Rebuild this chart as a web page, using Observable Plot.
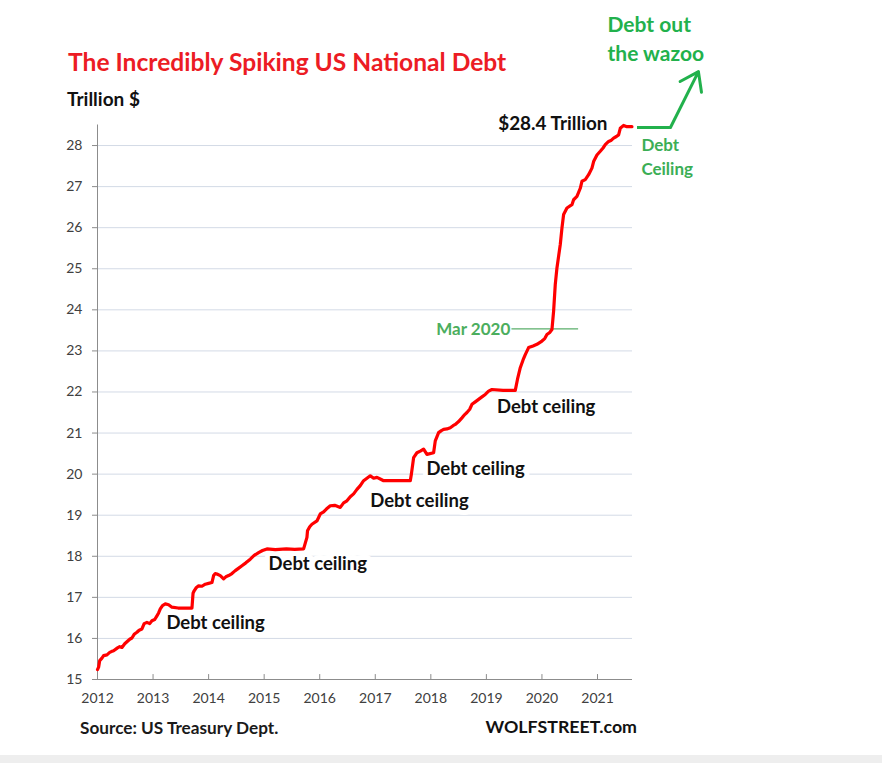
<!DOCTYPE html>
<html><head><meta charset="utf-8">
<script src="https://cdn.jsdelivr.net/npm/d3@7"></script>
<script src="https://cdn.jsdelivr.net/npm/@observablehq/plot@0.6"></script>
<style>
body{margin:0;background:#fff;font-family:Lato,sans-serif;}
#wrap{position:relative;width:882px;height:763px;overflow:hidden;background:#fff}
#chart{position:absolute;left:0;top:0}
.t{position:absolute;white-space:nowrap;font-weight:bold;line-height:1}
#strip{position:absolute;left:0;top:755px;width:882px;height:8px;background:#eeeeee}
</style></head><body>
<div id="wrap">
<div id="chart"></div>
<div class="t" style="left:68px;top:50px;font-size:24.6px;color:#ec1c24">The Incredibly Spiking US National Debt</div>
<div class="t" style="left:67px;top:89px;font-size:19px;color:#111">Trillion $</div>
<div class="t" style="left:80px;top:719px;font-size:17.2px;color:#1a1a1a">Source: US Treasury Dept.</div>
<div class="t" style="right:245px;top:718px;font-size:17.8px;color:#111">WOLFSTREET.com</div>
<div id="strip"></div>
</div>
<script>
// Debt series (decimal year, trillion $)
const years = [2012.00,2012.02,2012.04,2012.08,2012.11,2012.17,2012.22,2012.25,2012.29,2012.36,2012.40,2012.44,2012.49,2012.53,2012.58,2012.62,2012.66,2012.71,2012.75,2012.80,2012.84,2012.89,2012.94,2012.98,2013.03,2013.07,2013.10,2013.13,2013.17,2013.22,2013.28,2013.34,2013.45,2013.60,2013.70,
 2013.72,2013.74,2013.78,2013.82,2013.88,2013.94,2014.00,2014.06,2014.09,2014.12,2014.15,2014.21,2014.27,2014.31,2014.36,2014.42,2014.48,2014.53,2014.60,2014.67,2014.75,2014.82,2014.90,2014.97,2015.05,2015.20,2015.40,2015.55,2015.71,
 2015.77,2015.78,2015.82,2015.86,2015.95,2016.01,2016.07,2016.12,2016.19,2016.27,2016.37,2016.43,2016.49,2016.55,2016.61,2016.67,2016.73,2016.79,2016.85,2016.91,2016.97,2017.03,2017.09,2017.15,2017.40,2017.63,
 2017.65,2017.69,2017.75,2017.81,2017.87,2017.93,2018.05,2018.08,2018.14,2018.19,2018.23,2018.29,2018.35,2018.40,2018.44,2018.50,2018.56,2018.61,2018.65,2018.70,2018.74,2018.80,2018.86,2018.92,2018.98,2019.04,2019.10,2019.30,2019.52,
 2019.56,2019.61,2019.66,2019.70,2019.76,2019.84,2019.91,2020.00,2020.05,2020.09,2020.14,2020.18,2020.21,2020.24,2020.27,2020.33,2020.36,2020.39,2020.45,2020.54,2020.57,2020.63,2020.69,2020.72,2020.78,2020.84,2020.90,2020.93,2020.99,2021.05,2021.10,2021.14,2021.20,2021.25,2021.29,2021.34,2021.38,2021.41,2021.47,2021.53,2021.62];
const debt = [15.24,15.30,15.46,15.52,15.58,15.60,15.66,15.68,15.70,15.77,15.80,15.78,15.87,15.92,15.98,16.01,16.10,16.15,16.20,16.23,16.36,16.39,16.36,16.43,16.46,16.55,16.62,16.72,16.80,16.84,16.82,16.76,16.74,16.74,16.74,
 17.10,17.16,17.24,17.28,17.27,17.32,17.34,17.36,17.53,17.58,17.57,17.53,17.45,17.50,17.53,17.58,17.65,17.70,17.77,17.84,17.93,18.02,18.09,18.14,18.18,18.16,18.18,18.17,18.18,
 18.46,18.62,18.72,18.78,18.86,19.03,19.08,19.15,19.23,19.24,19.19,19.30,19.35,19.45,19.52,19.63,19.72,19.84,19.90,19.96,19.90,19.92,19.88,19.84,19.84,19.84,
 20.00,20.40,20.52,20.56,20.61,20.48,20.52,20.81,21.01,21.06,21.09,21.10,21.13,21.18,21.21,21.28,21.37,21.45,21.50,21.58,21.70,21.76,21.82,21.88,21.94,22.02,22.06,22.04,22.04,
 22.31,22.59,22.78,22.91,23.08,23.12,23.16,23.24,23.30,23.40,23.45,23.52,23.97,24.62,25.02,25.59,25.99,26.32,26.48,26.56,26.68,26.76,26.96,27.13,27.17,27.29,27.45,27.61,27.77,27.86,27.94,28.02,28.10,28.13,28.18,28.22,28.26,28.42,28.49,28.46,28.46];
const yearTicks = [2012,2013,2014,2015,2016,2017,2018,2019,2020,2021];
const valueTicks = [15,16,17,18,19,20,21,22,23,24,25,26,27,28];
const ceilingLabelX = [2013.24,2015.08,2016.91,2017.92,2019.19];
const ceilingLabelY = [16.37,17.81,19.35,20.12,21.63];
const ceilingLabelText = ["Debt ceiling","Debt ceiling","Debt ceiling","Debt ceiling","Debt ceiling"];

const series = years.map((x, i) => ({x, y: debt[i]}));
const ceilings = ceilingLabelX.map((x, i) => ({x, y: ceilingLabelY[i], t: ceilingLabelText[i]}));
const axisGray = "#8c8c8c";
const green = "#22b14c";

const chart = Plot.plot({
  width: 882, height: 740,
  marginLeft: 97, marginRight: 250, marginTop: 124.5, marginBottom: 61,
  x: {domain: [2012, 2021.63]},
  y: {domain: [15, 28.5]},
  style: {fontFamily: "Lato, sans-serif", fontSize: "14px", color: "#404040", background: "transparent", overflow: "visible"},
  marks: [
    Plot.gridY(valueTicks.slice(1), {stroke: "#d3dae6", strokeOpacity: 1}),
    Plot.axisY(valueTicks, {tickSize: 5, tickPadding: 10, stroke: axisGray, label: null}),
    Plot.axisX(yearTicks, {tickSize: 0, tickPadding: 14, tickFormat: d => String(d), label: null}),
    Plot.ruleX(yearTicks.slice(1), {y1: 15, y2: 15.12, stroke: axisGray}),
    Plot.ruleX([2012], {y1: 15, y2: 28.5, stroke: axisGray}),
    Plot.ruleY([15], {stroke: axisGray}),
    Plot.text(ceilings, {x: "x", y: "y", text: "t", textAnchor: "start", fontWeight: "bold", fontSize: 18.5, fill: "#111", stroke: "white", strokeWidth: 10, paintOrder: "stroke"}),
    Plot.text(["$28.4 Trillion"], {x: 2021.18, y: 28.53, text: d => d, textAnchor: "end", fontWeight: "bold", fontSize: 18.9, fill: "#111"}),
    Plot.ruleY([23.535], {x1: 2019.46, x2: 2020.66, stroke: "#5aae6a", strokeWidth: 1.2}),
    Plot.text(["Mar 2020"], {x: 2019.43, y: 23.52, text: d => d, textAnchor: "end", fontWeight: "bold", fontSize: 17, fill: "#4cae5e"}),
    Plot.line(series, {x: "x", y: "y", stroke: "#ff0000", strokeWidth: 3.2, strokeLinejoin: "round"}),
    Plot.text(["Debt\nCeiling"], {x: 2021.79, y: 27.77, text: d => d, textAnchor: "start", lineHeight: 1.42, fontWeight: "bold", fontSize: 17, fill: "#3bae55"}),
    Plot.text(["Debt out\nthe wazoo"], {x: 2021.18, y: 30.64, text: d => d, textAnchor: "start", lineHeight: 1.4, fontWeight: "bold", fontSize: 21, fill: green}),
    Plot.ruleY([28.44], {x1: 2021.72, x2: 2022.313, stroke: green, strokeWidth: 3}),
    Plot.arrow([0], {x1: 2022.313, y1: 28.44, x2: 2022.817, y2: 29.80, stroke: green, strokeWidth: 3, headLength: 22, headAngle: 70})
  ]
});
document.getElementById("chart").appendChild(chart);
</script>
</body></html>
